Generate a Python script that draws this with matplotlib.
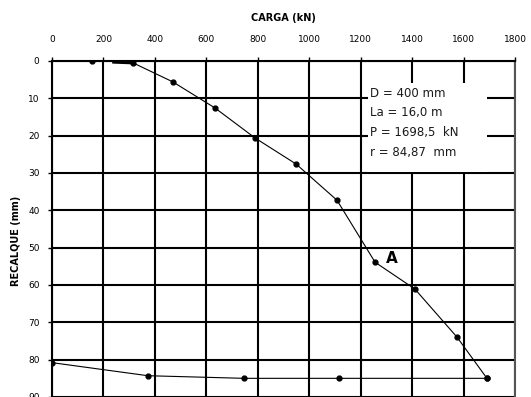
import matplotlib
matplotlib.use("Agg")
import matplotlib.pyplot as plt
from matplotlib.patches import Rectangle

# Loading curve
load_x = [315, 470, 634, 789, 949, 1108, 1256, 1411, 1575, 1691]
load_y = [0.5, 5.6, 12.6, 20.6, 27.6, 37.3, 53.9, 61.1, 74.0, 85.0]
# Initial segment (no markers) and isolated first reading
start_seg_x = [240, 315]
start_seg_y = [0.3, 0.5]
first_x = [155]
first_y = [0.0]
# Unloading curve
unload_x = [1691, 1116, 747, 373, 0]
unload_y = [85.0, 85.0, 85.0, 84.3, 80.8]

xticks = [0, 200, 400, 600, 800, 1000, 1200, 1400, 1600, 1800]
yticks = [0, 10, 20, 30, 40, 50, 60, 70, 80, 90]
info = ["D = 400 mm", "La = 16,0 m", "P = 1698,5  kN", "r = 84,87  mm"]

fig = plt.figure(figsize=(5.31, 3.97), dpi=100)
ax = fig.add_axes([52/531, 0.0, (515-52)/531, 1 - 61/397])
ax.set_xlim(0, 1800)
ax.set_ylim(90, 0)
ax.set_axisbelow(True)

ax.xaxis.tick_top()
ax.xaxis.set_label_position("top")
ax.set_xticks(xticks)
ax.set_yticks(yticks)
ax.set_xticklabels([str(v) for v in xticks])
ax.set_yticklabels([str(v) for v in yticks])
ax.tick_params(axis="both", direction="out", length=3, width=1, labelsize=6.5, colors="black")
ax.tick_params(axis="x", pad=9)
ax.tick_params(axis="y", pad=6)
ax.grid(True, color="black", linewidth=1.5)
for s in ax.spines.values():
    s.set_linewidth(1.5)
ax.spines["bottom"].set_visible(False)
ax.spines["right"].set_color("#555555")

ax.set_xlabel("CARGA (kN)", fontsize=7, fontweight="bold", labelpad=10)
ax.set_ylabel("RECALQUE (mm)", fontsize=7, fontweight="bold")
ax.yaxis.set_label_coords(-0.068, 0.464)

ax.add_patch(Rectangle((1229, 5.9), 1691 - 1229, 29.8 - 5.9, facecolor="white",
                       edgecolor="none", zorder=1))

ax.plot(start_seg_x, start_seg_y, color="black", linewidth=2.2, zorder=3)
ax.plot(first_x, first_y, "o", color="black", markersize=3.5, zorder=4)
ax.plot(load_x, load_y, "-o", color="black", linewidth=0.8, markersize=3.5, zorder=3)
ax.plot(unload_x, unload_y, "-o", color="black", linewidth=0.8, markersize=3.5, zorder=3)

for i, t in enumerate(info):
    ax.text(1236, 8.6 + i * 5.3, t, fontsize=8.5, va="center", ha="left",
            color="#1a1a1a", zorder=5)
ax.text(1300, 52.8, "A", fontsize=11, fontweight="bold", va="center", ha="left", zorder=5)

fig.savefig("out.png", dpi=100)
